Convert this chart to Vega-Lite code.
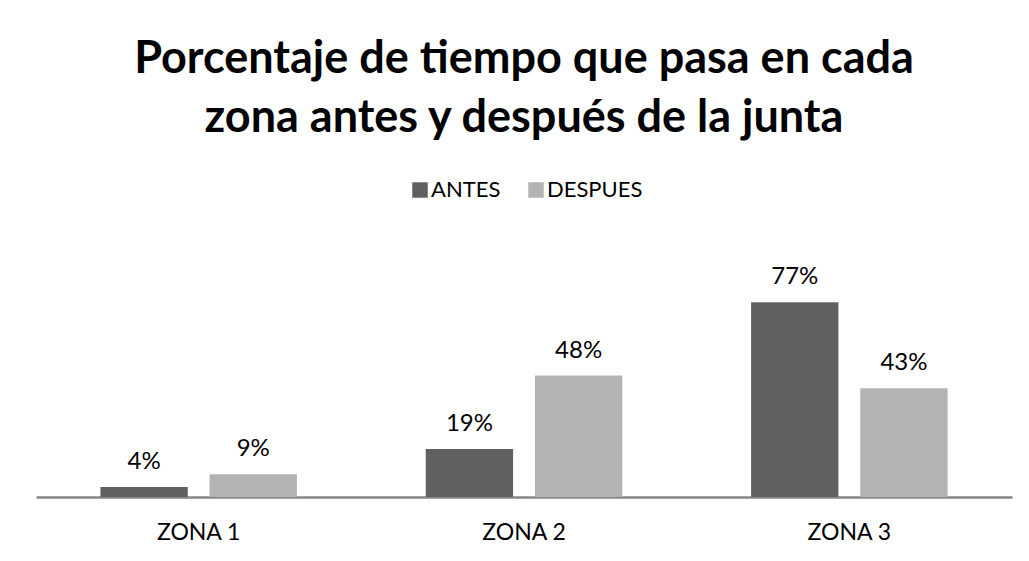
{
  "$schema": "https://vega.github.io/schema/vega-lite/v6.json",
  "width": 976,
  "height": 253,
  "autosize": {"type": "none"},
  "padding": {"left": 36, "top": 244, "right": 17, "bottom": 64},
  "background": "white",
  "title": {
    "text": ["Porcentaje de tiempo que pasa  en cada", "zona antes y después de la junta"],
    "font": "Lato",
    "fontSize": 45,
    "fontWeight": "bold",
    "color": "black",
    "lineHeight": 59,
    "anchor": "middle",
    "offset": 38
  },
  "data": {
    "values": [
      {"zona": "ZONA 1", "momento": "ANTES", "valor": 0.04},
      {"zona": "ZONA 1", "momento": "DESPUES", "valor": 0.09},
      {"zona": "ZONA 2", "momento": "ANTES", "valor": 0.19},
      {"zona": "ZONA 2", "momento": "DESPUES", "valor": 0.48},
      {"zona": "ZONA 3", "momento": "ANTES", "valor": 0.77},
      {"zona": "ZONA 3", "momento": "DESPUES", "valor": 0.43}
    ]
  },
  "encoding": {
    "x": {
      "field": "zona",
      "type": "nominal",
      "scale": {"paddingInner": 0, "paddingOuter": 0},
      "axis": {
        "title": null,
        "labelAngle": 0,
        "labelFont": "Lato",
        "labelFontSize": 23,
        "labelColor": "black",
        "ticks": false,
        "labelPadding": 24,
        "domainColor": "#878787",
        "domainWidth": 2.5,
        "grid": false
      }
    },
    "xOffset": {
      "field": "momento",
      "type": "nominal",
      "sort": ["ANTES", "DESPUES"],
      "scale": {"paddingInner": 0.2, "paddingOuter": 0.59}
    },
    "y": {
      "field": "valor",
      "type": "quantitative",
      "scale": {"domain": [0, 1]},
      "axis": null
    }
  },
  "layer": [
    {
      "mark": {"type": "bar"},
      "encoding": {
        "color": {
          "field": "momento",
          "type": "nominal",
          "sort": ["ANTES", "DESPUES"],
          "scale": {"domain": ["ANTES", "DESPUES"], "range": ["#606060", "#b3b3b3"]},
          "legend": {
            "title": null,
            "orient": "none",
            "direction": "horizontal",
            "legendX": 373,
            "legendY": -65,
            "padding": 0,
            "symbolType": "square",
            "symbolSize": 240,
            "symbolStrokeWidth": 0,
            "labelFont": "Lato",
            "labelFontSize": 22,
            "labelColor": "black",
            "labelOffset": 0,
            "columnPadding": 24
          }
        }
      }
    },
    {
      "mark": {
        "type": "text",
        "baseline": "alphabetic",
        "dy": -18,
        "font": "Lato",
        "fontSize": 24,
        "color": "black"
      },
      "encoding": {
        "text": {"field": "valor", "type": "quantitative", "format": ".0%"}
      }
    }
  ],
  "config": {
    "view": {"stroke": null}
  }
}
